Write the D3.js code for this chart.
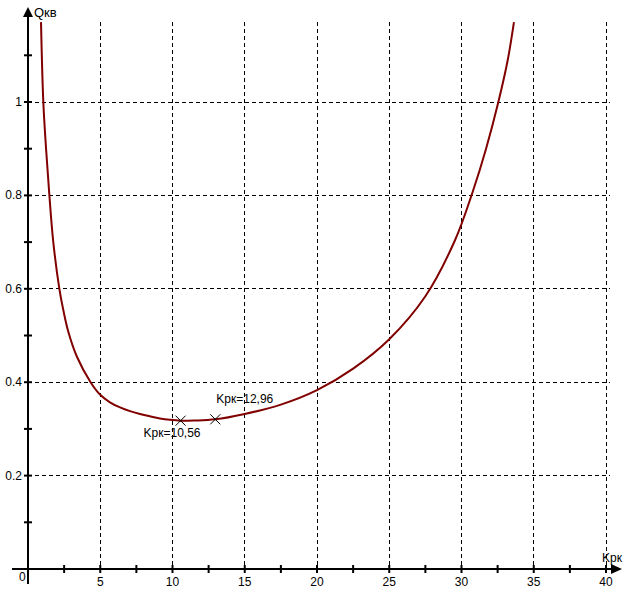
<!DOCTYPE html>
<html><head><meta charset="utf-8">
<script src="https://cdn.jsdelivr.net/npm/d3@7/dist/d3.min.js"></script>
<style>body{margin:0;background:#fff}svg{display:block;font-family:"Liberation Sans",Arial,sans-serif}</style>
</head><body>
<svg id="c" width="626" height="589"></svg>
<script>
const kValues = [0.9, 1.06, 1.25, 1.48, 1.75, 2.17, 2.44, 2.79, 3.38, 4.33, 5, 5.67, 6.37, 7.06, 7.75, 8.44, 9.13, 9.83, 10.56, 11.5, 12.96, 15, 17.5, 20, 22.5, 25, 27.5, 29.55, 30.8, 31.7, 32.55, 33.2, 33.63];
const qValues = [1.171, 1.0, 0.9, 0.8, 0.7, 0.6, 0.555, 0.508, 0.455, 0.4, 0.373, 0.357, 0.346, 0.338, 0.332, 0.327, 0.3225, 0.3195, 0.3176, 0.318, 0.3205, 0.332, 0.352, 0.383, 0.429, 0.492, 0.584, 0.704, 0.81, 0.9, 1.0, 1.09, 1.171];
const xMajor = [5, 10, 15, 20, 25, 30, 35, 40];
const xMinor = [2.5, 7.5, 12.5, 17.5, 22.5, 27.5, 32.5, 37.5];
const yMajor = [0.2, 0.4, 0.6, 0.8, 1];
const yMinor = [0.1, 0.3, 0.5, 0.7, 0.9, 1.1];
const markerK = [10.56, 12.96];
const markerQ = [0.3176, 0.3205];
const markerLabels = ["Kрк=10,56", "Kрк=12,96"];

const svg = d3.select("#c");
const x = d3.scaleLinear().domain([0, 40]).range([28, 606]);
const y = d3.scaleLinear().domain([0, 1]).range([569, 102]);
const gridTop = 22;

// grid
svg.append("g").selectAll("line").data(xMajor).join("line")
  .attr("x1", d => x(d)).attr("x2", d => x(d)).attr("y1", gridTop).attr("y2", y(0))
  .attr("stroke", "#000").attr("stroke-width", 1).attr("stroke-dasharray", "4,3").attr("shape-rendering", "crispEdges");
svg.append("g").selectAll("line").data(yMajor).join("line")
  .attr("x1", x(0)).attr("x2", 610).attr("y1", d => y(d)).attr("y2", d => y(d))
  .attr("stroke", "#000").attr("stroke-width", 1).attr("stroke-dasharray", "4,3").attr("shape-rendering", "crispEdges");

// axes
svg.append("line").attr("x1", 12).attr("x2", 614).attr("y1", y(0)).attr("y2", y(0)).attr("stroke", "#000").attr("stroke-width", 2);
svg.append("line").attr("x1", x(0)).attr("x2", x(0)).attr("y1", 584).attr("y2", 14).attr("stroke", "#000").attr("stroke-width", 2);
svg.append("path").attr("d", `M${622},${y(0)} L${611},${y(0)-5} L${611},${y(0)+5}Z`).attr("fill", "#000");
svg.append("path").attr("d", `M${x(0)},7 L${x(0)-5},17 L${x(0)+5},17Z`).attr("fill", "#000");

// ticks
svg.append("g").selectAll("line").data(xMajor.concat(xMinor)).join("line")
  .attr("x1", d => x(d)).attr("x2", d => x(d)).attr("y1", y(0) - 4).attr("y2", y(0) + 4)
  .attr("stroke", "#000").attr("stroke-width", 2);
svg.append("g").selectAll("line").data(yMajor.concat(yMinor)).join("line")
  .attr("x1", x(0) - 4).attr("x2", x(0) + 4).attr("y1", d => y(d)).attr("y2", d => y(d))
  .attr("stroke", "#000").attr("stroke-width", 2);

// tick labels
svg.append("g").selectAll("text").data(xMajor).join("text")
  .attr("x", d => x(d)).attr("y", 586).attr("text-anchor", "middle").attr("font-size", 12).text(d => d);
svg.append("g").selectAll("text").data(yMajor).join("text")
  .attr("x", 22).attr("y", d => y(d) + 4).attr("text-anchor", "end").attr("font-size", 12).text(d => d);
svg.append("text").attr("x", 19).attr("y", 581).attr("font-size", 12).text("0");
svg.append("text").attr("x", 34).attr("y", 17).attr("font-size", 13).text("Qкв");
svg.append("text").attr("x", 602).attr("y", 562).attr("font-size", 12).text("Kрк");

// curve
const line = d3.line().x((d, i) => x(kValues[i])).y((d, i) => y(qValues[i])).curve(d3.curveCatmullRom.alpha(0.5));
svg.append("path").attr("d", line(kValues)).attr("fill", "none").attr("stroke", "#800000").attr("stroke-width", 2);

// markers
const mk = svg.append("g").selectAll("g").data(markerK).join("g")
  .attr("transform", (d, i) => `translate(${x(d)},${y(markerQ[i])})`);
mk.append("path").attr("d", "M-5,-5L5,5M-5,5L5,-5").attr("stroke", "#000").attr("stroke-width", 1);
svg.append("text").attr("x", x(markerK[0]) - 37).attr("y", y(markerQ[0]) + 16).attr("font-size", 12).text(markerLabels[0]);
svg.append("text").attr("x", x(markerK[1]) + 1).attr("y", y(markerQ[1]) - 16).attr("font-size", 12).text(markerLabels[1]);
</script>
</body></html>
